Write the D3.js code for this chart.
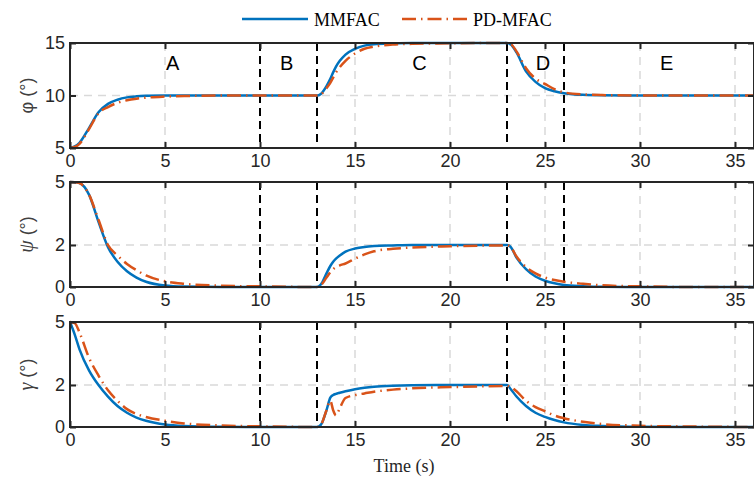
<!DOCTYPE html>
<html>
<head>
<meta charset="utf-8">
<script src="https://cdn.jsdelivr.net/npm/d3@7"></script>
<style>
  body { margin: 0; background: #fff; }
  svg { display: block; }
</style>
</head>
<body>
<div id="chart"></div>
<script>
// sample times (s)
const time = [0, 0.25, 0.5, 1, 1.5, 2, 2.5, 3, 3.5, 4, 5, 6, 8, 10, 13, 13.2, 13.5, 13.7, 13.85, 14, 14.2, 14.5, 15, 15.5, 16, 17, 18, 20, 23, 23.2, 23.5, 24, 24.5, 25, 25.5, 26, 27, 28, 30, 33, 36]

const phiMMFAC = [5, 5.15, 5.5, 6.9, 8.4, 9.2, 9.6, 9.82, 9.92, 9.97, 10, 10, 10, 10, 10, 10.15, 10.9, 11.6, 12.2, 12.75, 13.3, 13.9, 14.45, 14.75, 14.88, 14.96, 15, 15, 15, 14.85, 14.1, 12.3, 11.3, 10.7, 10.4, 10.22, 10.06, 10.02, 10, 10, 10]
const phiPD    = [5, 5.1, 5.4, 6.8, 8.3, 8.9, 9.3, 9.55, 9.7, 9.8, 9.9, 9.95, 10, 10, 10, 10.1, 10.7, 11.2, 11.7, 12.2, 12.7, 13.3, 14.0, 14.45, 14.65, 14.85, 14.92, 14.97, 15, 14.9, 14.2, 12.6, 11.6, 11.1, 10.6, 10.3, 10.1, 10.04, 10, 10, 10]

const psiMMFAC = [5, 4.99, 4.95, 4.4, 3.1, 1.9, 1.2, 0.75, 0.45, 0.25, 0.07, 0.02, 0, 0, 0, 0.12, 0.65, 1.0, 1.2, 1.35, 1.5, 1.68, 1.83, 1.91, 1.95, 1.98, 2, 2, 2, 1.9, 1.4, 0.85, 0.5, 0.3, 0.18, 0.1, 0.04, 0.01, 0, 0, 0]
const psiPD    = [5, 4.99, 4.95, 4.4, 3.2, 2.0, 1.5, 1.1, 0.8, 0.55, 0.27, 0.15, 0.06, 0.03, 0, 0.08, 0.45, 0.7, 0.85, 0.95, 1.03, 1.12, 1.35, 1.55, 1.7, 1.82, 1.88, 1.94, 1.98, 1.9, 1.45, 0.95, 0.65, 0.45, 0.33, 0.25, 0.15, 0.08, 0.03, 0, 0]

const gammaMMFAC = [5, 4.4, 3.7, 2.7, 2.0, 1.45, 1.0, 0.68, 0.45, 0.3, 0.12, 0.05, 0.01, 0, 0, 0.1, 0.8, 1.4, 1.52, 1.58, 1.63, 1.7, 1.8, 1.87, 1.92, 1.97, 1.99, 2, 2, 1.8, 1.45, 1.0, 0.68, 0.48, 0.33, 0.22, 0.1, 0.05, 0.01, 0, 0]
const gammaPD    = [5, 4.95, 4.5, 3.3, 2.45, 1.75, 1.25, 0.85, 0.62, 0.48, 0.3, 0.17, 0.07, 0.03, 0, 0.1, 0.8, 1.25, 0.8, 0.55, 0.9, 1.38, 1.52, 1.6, 1.68, 1.78, 1.84, 1.9, 1.95, 1.9, 1.7, 1.25, 0.95, 0.75, 0.55, 0.42, 0.25, 0.14, 0.06, 0.02, 0]

const xTicks = [0, 5, 10, 15, 20, 25, 30, 35]
const phaseBounds = [10, 13, 23, 26]
const phaseNames = ['A', 'B', 'C', 'D', 'E']
const phaseLabelT = [5.4, 11.4, 18.4, 24.9, 31.4]

const panels = [
  { sym: 'φ', italic: false, domain: [5, 15], ticks: [5, 10, 15], grid: [10], mm: phiMMFAC, pd: phiPD },
  { sym: 'ψ', italic: true, domain: [0, 5], ticks: [0, 2, 5], grid: [2], mm: psiMMFAC, pd: psiPD },
  { sym: 'γ', italic: true, domain: [0, 5], ticks: [0, 2, 5], grid: [2], mm: gammaMMFAC, pd: gammaPD }
]

const width = 754, height = 477
const panelTop = [43, 182, 322], panelH = 105
const blue = '#0072BD', orange = '#D95319', axisColor = '#262626'
const sans = 'Liberation Sans, Arial, sans-serif'
const serif = 'Liberation Serif, Times New Roman, serif'
const pdDash = '14,5,1.5,5'

const svg = d3.select('#chart').append('svg')
  .attr('width', width)
  .attr('height', height)

const x = d3.scaleLinear().domain([0, 36]).range([70, 754])

panels.forEach((p, i) => {
  const top = panelTop[i]
  const y = d3.scaleLinear().domain(p.domain).range([top + panelH, top])
  const g = svg.append('g')

  // grey grid
  g.selectAll('line.vgrid')
    .data(xTicks.filter(d => d > 0 && !phaseBounds.includes(d)))
    .enter().append('line')
      .attr('x1', d => x(d)).attr('x2', d => x(d))
      .attr('y1', top).attr('y2', top + panelH)
      .attr('stroke', '#d9d9d9').attr('stroke-width', 1.5)
      .attr('stroke-dasharray', '8,6')
  g.selectAll('line.hgrid')
    .data(p.grid)
    .enter().append('line')
      .attr('x1', x(0)).attr('x2', x(36))
      .attr('y1', d => y(d)).attr('y2', d => y(d))
      .attr('stroke', '#d9d9d9').attr('stroke-width', 1.5)
      .attr('stroke-dasharray', '8,6')

  // phase boundaries
  g.selectAll('line.phase')
    .data(phaseBounds)
    .enter().append('line')
      .attr('x1', d => x(d)).attr('x2', d => x(d))
      .attr('y1', top).attr('y2', top + panelH)
      .attr('stroke', '#000').attr('stroke-width', 2)
      .attr('stroke-dasharray', '8,5')

  // curves
  const line = vals => d3.line()
    .x((d, k) => x(time[k]))
    .y(d => y(d))
    .curve(d3.curveMonotoneX)(vals)

  g.append('path')
    .attr('d', line(p.mm))
    .attr('fill', 'none').attr('stroke', blue).attr('stroke-width', 2.5)
  g.append('path')
    .attr('d', line(p.pd))
    .attr('fill', 'none').attr('stroke', orange).attr('stroke-width', 2.5)
    .attr('stroke-dasharray', pdDash)

  // frame
  g.append('rect')
    .attr('x', x(0)).attr('y', top)
    .attr('width', x(36) - x(0)).attr('height', panelH)
    .attr('fill', 'none').attr('stroke', axisColor).attr('stroke-width', 2)

  // axes with inward ticks
  const fmtAxis = sel => {
    sel.select('.domain').remove()
    sel.selectAll('.tick line').attr('stroke', axisColor).attr('stroke-width', 2)
    sel.selectAll('.tick text').attr('fill', axisColor)
      .attr('font-family', sans).attr('font-size', 18)
  }
  const fmt = d3.format('d')
  g.append('g').attr('transform', `translate(0,${top + panelH})`)
    .call(d3.axisBottom(x).tickValues(xTicks).tickFormat(fmt).tickSizeInner(-6).tickPadding(6))
    .call(fmtAxis)
  g.append('g').attr('transform', `translate(0,${top})`)
    .call(d3.axisTop(x).tickValues(xTicks).tickSizeInner(-6).tickFormat(''))
    .call(fmtAxis)
  g.append('g').attr('transform', `translate(${x(0)},0)`)
    .call(d3.axisLeft(y).tickValues(p.ticks).tickFormat(fmt).tickSizeInner(-6).tickPadding(5))
    .call(fmtAxis)
  g.append('g').attr('transform', `translate(${x(36)},0)`)
    .call(d3.axisRight(y).tickValues(p.ticks).tickSizeInner(-6).tickFormat(''))
    .call(fmtAxis)

  // y label
  g.append('text')
    .attr('transform', `translate(33,${top + panelH / 2}) rotate(-90)`)
    .attr('text-anchor', 'middle')
    .attr('font-family', sans)
    .attr('font-size', 18)
    .attr('fill', '#404040')
    .call(t => {
      t.append('tspan')
        .attr('font-family', p.italic ? serif : sans)
        .attr('font-style', p.italic ? 'italic' : 'normal')
        .attr('font-size', p.italic ? 20 : 18)
        .text(p.sym)
      t.append('tspan').text(' (°)')
    })

  // phase names on top panel
  if (i === 0) {
    g.selectAll('text.phase')
      .data(phaseNames)
      .enter().append('text')
        .attr('x', (d, k) => x(phaseLabelT[k]))
        .attr('y', top + 27)
        .attr('text-anchor', 'middle')
        .attr('font-family', sans)
        .attr('font-size', 20)
        .attr('fill', '#000')
        .text(d => d)
  }
})

// x label
svg.append('text')
  .attr('x', 404).attr('y', 472)
  .attr('text-anchor', 'middle')
  .attr('font-family', serif).attr('font-size', 18)
  .attr('fill', axisColor)
  .text('Time (s)')

// legend
const legend = svg.append('g')
legend.append('line')
  .attr('x1', 242).attr('x2', 308).attr('y1', 19).attr('y2', 19)
  .attr('stroke', blue).attr('stroke-width', 2.5)
legend.append('text')
  .attr('x', 314).attr('y', 26)
  .attr('font-family', serif).attr('font-size', 18).attr('fill', '#000')
  .text('MMFAC')
legend.append('line')
  .attr('x1', 402).attr('x2', 468).attr('y1', 19).attr('y2', 19)
  .attr('stroke', orange).attr('stroke-width', 2.5)
  .attr('stroke-dasharray', pdDash)
legend.append('text')
  .attr('x', 473).attr('y', 26)
  .attr('font-family', serif).attr('font-size', 18).attr('fill', '#000')
  .text('PD-MFAC')
</script>
</body>
</html>
